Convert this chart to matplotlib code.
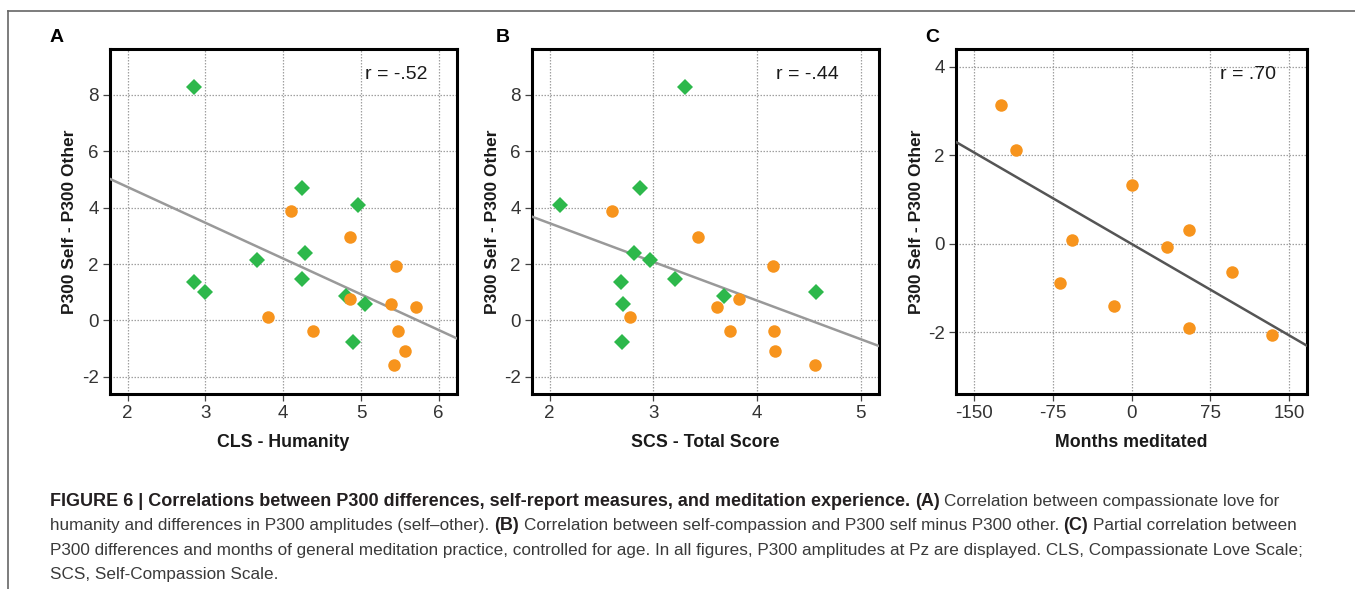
import numpy as np
import matplotlib
matplotlib.use("Agg")
import matplotlib.pyplot as plt
from matplotlib.lines import Line2D

plt.rcParams['font.family'] = ['Liberation Sans', 'DejaVu Sans']
plt.rcParams['axes.unicode_minus'] = False

# panel A: CLS - Humanity
a_green_x = [2.85, 4.24, 4.96, 4.28, 3.66, 2.85, 3.00, 4.24, 4.81, 5.05, 4.90]
a_green_y = [8.28, 4.71, 4.09, 2.38, 2.14, 1.36, 1.02, 1.46, 0.86, 0.58, -0.77]
a_orange_x = [4.10, 4.86, 5.45, 4.86, 5.38, 5.71, 3.80, 4.38, 5.48, 5.57, 5.43]
a_orange_y = [3.88, 2.95, 1.92, 0.77, 0.59, 0.46, 0.13, -0.39, -0.36, -1.08, -1.57]
a_fit = (-1.268, 7.267)   # slope, intercept

# panel B: SCS - Total Score
b_green_x = [3.31, 2.87, 2.10, 2.81, 2.97, 2.69, 4.57, 3.21, 3.68, 2.71, 2.70]
b_green_y = [8.28, 4.71, 4.09, 2.38, 2.14, 1.36, 1.02, 1.46, 0.86, 0.58, -0.77]
b_orange_x = [2.60, 3.43, 4.15, 3.83, 3.61, 2.78, 3.74, 4.16, 4.17, 4.56]
b_orange_y = [3.88, 2.95, 1.92, 0.77, 0.46, 0.13, -0.39, -0.36, -1.08, -1.57]
b_fit = (-1.371, 6.19)

# panel C: months meditated
c_x = [-124.0, -109.4, 0.0, -56.1, 54.6, 33.6, 95.8, -67.9, -16.8, 54.9, 133.9]
c_y = [3.13, 2.11, 1.34, 0.09, 0.31, -0.07, -0.63, -0.89, -1.40, -1.90, -2.06]
c_fit = (-0.01379, 0.0)

green = '#2db84b'
orange = '#f7941d'

W, H = 1355, 589
fig = plt.figure(figsize=(W/100, H/100), dpi=100)

def px(x0, y0, w, h):
    return [x0/W, 1-(y0+h)/H, w/W, h/H]

def setup(ax, xlim, ylim, xt, yt, xlabel, rtext, rx, fitc, linecol, lblx):
    ax.set_xlim(xlim)
    ax.set_ylim(ylim)
    ax.set_xticks(xt)
    ax.set_yticks(yt)
    ax.grid(True, linestyle=(0, (1.2, 1.2)), color='#a0a0a0', linewidth=0.9, zorder=0)
    ax.set_axisbelow(True)
    for s in ax.spines.values():
        s.set_linewidth(2.2)
        s.set_color('black')
    ax.tick_params(axis='both', direction='out', length=5, width=0.9, color='#444444',
                   labelsize=13.5, labelcolor='#333333', pad=3)
    ax.tick_params(top=False, right=False)
    xs = np.array(xlim)
    ax.plot(xs, fitc[0]*xs + fitc[1], color=linecol, linewidth=1.8, zorder=3)
    ax.set_xlabel(xlabel, fontsize=12.8, fontweight='bold', color='#1a1a1a')
    ax.xaxis.set_label_coords(0.5, -0.115)
    ax.set_ylabel('P300 Self - P300 Other', fontsize=12.5, fontweight='bold', color='#1a1a1a')
    ax.yaxis.set_label_coords(lblx, 0.5)
    ax.text(rx, 0.925, rtext, transform=ax.transAxes, ha='right', va='center',
            fontsize=14, color='#1a1a1a')

axA = fig.add_axes(px(110, 49, 347, 345))
setup(axA, (1.772, 6.235), (-2.61, 9.63), [2, 3, 4, 5, 6], [-2, 0, 2, 4, 6, 8],
      'CLS - Humanity', 'r = -.52', 0.916, a_fit, '#999999', -0.095)
axA.plot(a_green_x, a_green_y, 'D', color=green, markersize=8, mew=0, zorder=4)
axA.plot(a_orange_x, a_orange_y, 'o', color=orange, markersize=9, mew=0, zorder=4)

axB = fig.add_axes(px(532, 49, 347, 345))
setup(axB, (1.83, 5.177), (-2.61, 9.63), [2, 3, 4, 5], [-2, 0, 2, 4, 6, 8],
      'SCS - Total Score', 'r = -.44', 0.885, b_fit, '#999999', -0.092)
axB.plot(b_green_x, b_green_y, 'D', color=green, markersize=8, mew=0, zorder=4)
axB.plot(b_orange_x, b_orange_y, 'o', color=orange, markersize=9, mew=0, zorder=4)

axC = fig.add_axes(px(956, 49, 351, 345))
setup(axC, (-166.8, 166.8), (-3.39, 4.40), [-150, -75, 0, 75, 150], [-2, 0, 2, 4],
      'Months meditated', 'r = .70', 0.912, c_fit, '#555555', -0.091)
axC.plot(c_x, c_y, 'o', color=orange, markersize=9, mew=0, zorder=4)

for lab, x in [('A', 57), ('B', 503), ('C', 932)]:
    fig.text(x/W, 1-38/H, lab, fontsize=14, fontweight='bold', ha='center', va='center')

# outer frame (top and left edges)
fig.add_artist(Line2D([8/W, 8/W], [0, 1-11/H], color='#666666', linewidth=1.2))
fig.add_artist(Line2D([8/W, 1], [1-11/H, 1-11/H], color='#666666', linewidth=1.2))

# caption with bold runs
caption = [
    [('FIGURE 6 | Correlations between P300 differences, self-report measures, and meditation experience.', True),
     ('(A)', True), ('Correlation between compassionate love for', False)],
    [('humanity and differences in P300 amplitudes (self\u2013other).', False), ('(B)', True),
     ('Correlation between self-compassion and P300 self minus P300 other.', False), ('(C)', True),
     ('Partial correlation between', False)],
    [('P300 differences and months of general meditation practice, controlled for age. In all figures, P300 amplitudes at Pz are displayed. CLS, Compassionate Love Scale;', False)],
    [('SCS, Self-Compassion Scale.', False)],
]
baselines = [506, 530, 555, 579]
reg_size = 12.3
bold_size = 13.0
renderer = fig.canvas.get_renderer()
t1 = fig.text(0, 0, 'x x', fontsize=reg_size)
t2 = fig.text(0, 0, 'xx', fontsize=reg_size)
space = t1.get_window_extent(renderer).width - t2.get_window_extent(renderer).width
t1.remove()
t2.remove()
for line, yb in zip(caption, baselines):
    x = 50.0
    for s, bold in line:
        t = fig.text(x/W, 1-yb/H, s, fontsize=bold_size if bold else reg_size,
                     va='baseline', ha='left',
                     fontweight='bold' if bold else 'normal',
                     color='#231f20' if bold else '#3a3a3a')
        x += t.get_window_extent(renderer).width + space

fig.savefig('out.png', dpi=100)
